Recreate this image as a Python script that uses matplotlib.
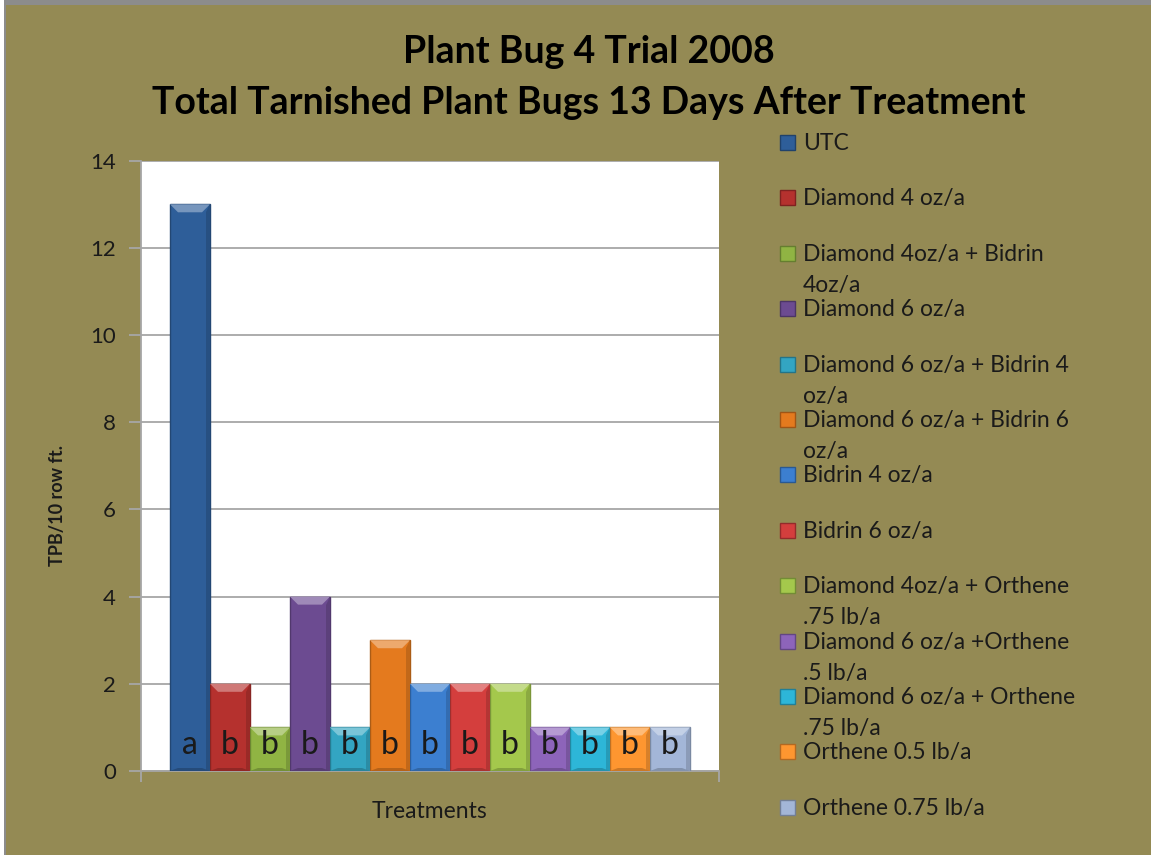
import numpy as np
import matplotlib
matplotlib.use('Agg')
import matplotlib.pyplot as plt
from matplotlib.patches import Polygon, Rectangle
from matplotlib.colors import to_rgb

plt.rcParams['font.family'] = ['Lato', 'DejaVu Sans']

# ── Data ──────────────────────────────────────────────────────────
treatments = [
    "UTC",
    "Diamond 4 oz/a",
    "Diamond 4oz/a + Bidrin\n4oz/a",
    "Diamond 6 oz/a",
    "Diamond 6 oz/a + Bidrin 4\noz/a",
    "Diamond 6 oz/a + Bidrin 6\noz/a",
    "Bidrin 4 oz/a",
    "Bidrin 6 oz/a",
    "Diamond 4oz/a + Orthene\n.75 lb/a",
    "Diamond 6 oz/a +Orthene\n.5 lb/a",
    "Diamond 6 oz/a + Orthene\n.75 lb/a",
    "Orthene 0.5 lb/a",
    "Orthene 0.75 lb/a",
]
tpb = [13, 2, 1, 4, 1, 3, 2, 2, 2, 1, 1, 1, 1]
letters = ['a', 'b', 'b', 'b', 'b', 'b', 'b', 'b', 'b', 'b', 'b', 'b', 'b']

colors = ['#2E5E99', '#B5312E', '#90B443', '#6C4B91', '#33A5C2', '#E47A1E',
          '#3C7FD0', '#D43E3D', '#A4C84C', '#8D64BA', '#2DB6D8', '#FE9630',
          '#A3B6D8']

C_BG = '#948A54'; C_GRID = '#A6A6A6'; C_TEXT = '#1A1A1A'


def shade(c, f):
    r = np.array(to_rgb(c))
    return tuple(np.clip(r * f, 0, 1)) if f < 1 else tuple(r + (1 - r) * (f - 1))


# ── Figure ────────────────────────────────────────────────────────
W, H = 1151, 855
fig = plt.figure(figsize=(W / 100, H / 100), dpi=100, facecolor=C_BG)

# thin gray frame at top / left
fig.add_artist(Rectangle((0, 1 - 5 / H), 1, 5 / H, transform=fig.transFigure,
                         facecolor='#8C8C8C', edgecolor='none'))
fig.add_artist(Rectangle((0, 0), 6 / W, 1, transform=fig.transFigure,
                         facecolor='#8C8C8C', edgecolor='none'))
fig.add_artist(Rectangle((0, 0), 4 / W, 1, transform=fig.transFigure,
                         facecolor='white', edgecolor='none'))

ax = fig.add_axes([141 / W, 84 / H, 578 / W, 610.3 / H])
ax.set_facecolor('white')

x = np.arange(len(tpb))
bars = ax.bar(x, tpb, width=1.0, color=colors, zorder=3,
              edgecolor=[shade(c, 0.75) for c in colors], linewidth=1)

# bevel: lighter top, darker right and bottom strips
ppx = 1 / 40.0          # data units per pixel in x
ppy = 14 / 610.3        # data units per pixel in y
for b, c in zip(bars, colors):
    x0, x1, h = b.get_x(), b.get_x() + b.get_width(), b.get_height()
    d, dy = 8 * ppx, 8 * ppy
    ax.add_patch(Polygon([(x0, h), (x1, h), (x1 - d, h - dy), (x0 + d, h - dy)],
                         facecolor=shade(c, 1.35), edgecolor='none', zorder=4))
    ax.add_patch(Polygon([(x1, h), (x1, 0), (x1 - 4 * ppx, 0), (x1 - 4 * ppx, h - dy)],
                         facecolor=shade(c, 0.85), edgecolor='none', zorder=4))
    ax.add_patch(Polygon([(x0, 0), (x1, 0), (x1 - d, 3 * ppy), (x0 + d, 3 * ppy)],
                         facecolor=shade(c, 0.8), edgecolor='none', zorder=4))

for xi, lt in zip(x, letters):
    ax.text(xi, 0.39, lt, ha='center', va='baseline', fontsize=23,
            color=C_TEXT, zorder=5)

ax.set_xlim(-0.5 - 0.725, len(tpb) - 0.5 + 0.725)
ax.set_ylim(0, 14)
ax.set_yticks(range(0, 15, 2))
ax.grid(axis='y', color=C_GRID, lw=1.3, zorder=0)
ax.tick_params(axis='y', colors=C_GRID, labelcolor=C_TEXT, labelsize=16,
               length=9, width=1.3, pad=9)
ax.set_xticks(ax.get_xlim())
ax.set_xticklabels(['', ''])
ax.tick_params(axis='x', colors=C_GRID, length=8, width=1.3)
for side in ['top', 'right']:
    ax.spines[side].set_visible(False)
for side in ['left', 'bottom']:
    ax.spines[side].set_color(C_GRID)
    ax.spines[side].set_linewidth(1.3)

ax.set_xlabel('Treatments', fontsize=16.5, color=C_TEXT, labelpad=10)
fig.text(57 / W, 1 - 505 / H, 'TPB/10 row ft.', rotation=90, ha='center',
         va='center', fontsize=13, fontweight='bold', color=C_TEXT)

# ── Titles ────────────────────────────────────────────────────────
fig.text(589 / W, 1 - 52 / H, 'Plant Bug 4 Trial 2008', ha='center',
         va='center', fontsize=27, fontweight='bold', color='black')
fig.text(589 / W, 1 - 103 / H, 'Total Tarnished Plant Bugs 13 Days After Treatment',
         ha='center', va='center', fontsize=27, fontweight='bold', color='black')

# ── Legend (drawn by hand, Excel style) ───────────────────────────
for i, (lab, c) in enumerate(zip(treatments, colors)):
    yc = 142.5 + 55.4 * i
    fig.add_artist(Rectangle((780 / W, 1 - (yc + 7.5) / H), 15 / W, 15 / H,
                             transform=fig.transFigure, facecolor=c,
                             edgecolor=shade(c, 0.7), lw=1))
    for k, line in enumerate(lab.split('\n')):
        fig.text(803 / W, 1 - (yc + 7.5 + 31 * k) / H, line, ha='left',
                 va='baseline', fontsize=16.5, color=C_TEXT)

fig.savefig('out.png', dpi=100, facecolor=C_BG)
